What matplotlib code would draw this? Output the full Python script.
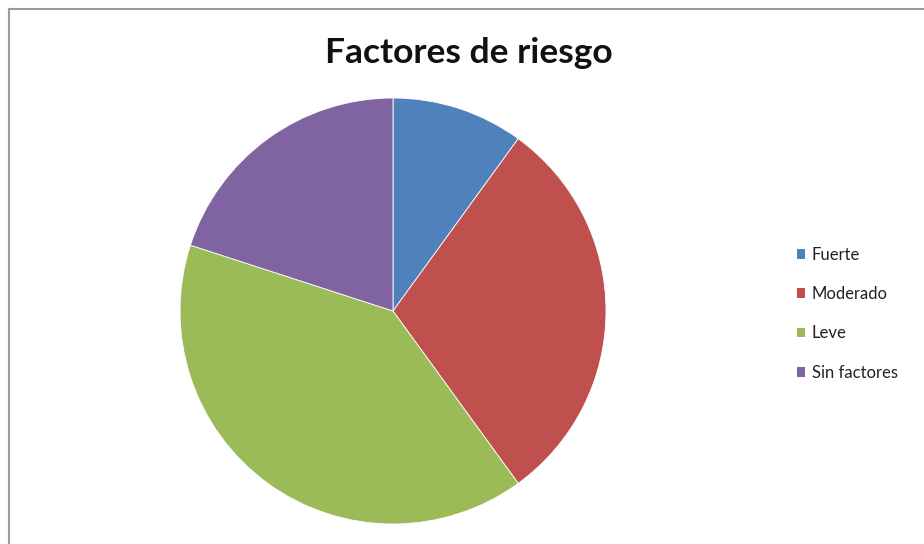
import matplotlib.pyplot as plt
from matplotlib.patches import Patch
from matplotlib.lines import Line2D

# Data
labels = ['Fuerte', 'Moderado', 'Leve', 'Sin factores']
values = [10, 30, 40, 20]
colors = ['#4F81BD', '#C0504D', '#9BBB59', '#8064A2']

plt.rcParams['font.family'] = ['Lato', 'DejaVu Sans']

W, H = 924, 544
fig = plt.figure(figsize=(W / 100, H / 100), dpi=100)

# pie axes: centre (393, 311), radius 213 px
cx, cy, r = 393, 311, 213
ax = fig.add_axes([(cx - r) / W, (H - cy - r) / H, 2 * r / W, 2 * r / H])
ax.pie(values, colors=colors, startangle=90, counterclock=False,
       radius=1.0, wedgeprops=dict(edgecolor='white', linewidth=0.6))
ax.set_xlim(-1, 1)
ax.set_ylim(-1, 1)
ax.set_aspect('equal')
ax.axis('off')

fig.text(469 / W, 1 - 53 / H, 'Factores de riesgo', ha='center', va='center',
         fontsize=25.5, fontweight='bold', color='#111111')

# legend
handles = [Patch(facecolor=c, edgecolor='none') for c in colors]
leg = fig.legend(handles, labels, loc='upper left',
                 bbox_to_anchor=(790 / W, 1 - 240 / H), frameon=False,
                 fontsize=12, handlelength=0.5, handleheight=0.5,
                 handletextpad=0.4, labelspacing=1.4, borderaxespad=0,
                 labelcolor='#222222')

# grey frame on top and left edges
fig.add_artist(Line2D([9 / W, 9 / W], [0, 1 - 9 / H], transform=fig.transFigure,
                      color='#9a9a9a', linewidth=1.5))
fig.add_artist(Line2D([9 / W, 1], [1 - 9 / H, 1 - 9 / H], transform=fig.transFigure,
                      color='#9a9a9a', linewidth=1.5))

fig.savefig('out.png', dpi=100)
